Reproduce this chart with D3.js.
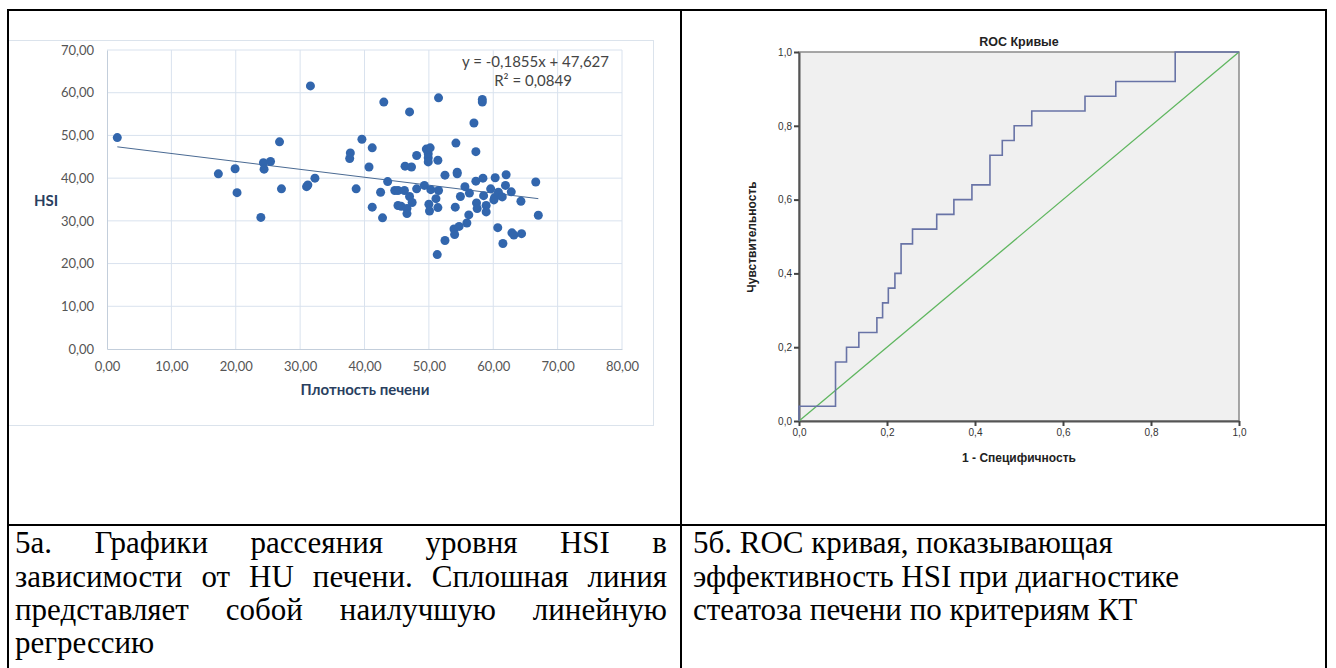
<!DOCTYPE html>
<html>
<head>
<meta charset="utf-8">
<script src="https://cdn.jsdelivr.net/npm/d3@7"></script>
<style>
  body { margin: 0; background: #fff; }
  svg { display: block; }
</style>
</head>
<body>
<svg id="page" width="1336" height="668"></svg>
<script>
// scatter: liver density (x) vs HSI (y)
var densX = [1.6, 17.3, 19.9, 20.2, 23.9, 24.3, 24.4, 25.4, 26.8, 27.1, 31.0, 31.2, 31.6, 32.3,
  37.7, 37.8, 38.7, 39.6, 40.7, 41.2, 41.2, 42.5, 42.8, 43.0, 43.6, 44.7, 45.2, 45.2, 45.7,
  46.2, 46.3, 46.6, 46.6, 47.0, 47.0, 47.3, 47.4, 48.1, 48.1, 49.3, 49.6, 49.9, 49.9, 49.9,
  50.0, 50.1, 50.2, 50.3, 51.1, 51.3, 51.4, 51.4, 51.5, 51.5, 52.5, 52.5, 53.9, 54.0, 54.1,
  54.2, 54.4, 54.4, 54.7, 54.9, 55.6, 55.9, 56.2, 56.3, 57.0, 57.3, 57.3, 57.4, 57.5, 58.3,
  58.3, 58.4, 58.5, 58.9, 58.9, 59.6, 60.1, 60.2, 60.3, 60.7, 60.8, 61.4, 61.5, 61.9, 62.0,
  62.8, 62.9, 63.2, 64.3, 64.4, 66.6, 67.0];
var hsiY = [49.5, 41.0, 42.2, 36.6, 30.8, 43.6, 42.1, 43.9, 48.5, 37.5, 38.0, 38.4, 61.6, 40.0,
  44.6, 45.9, 37.5, 49.1, 42.6, 47.1, 33.2, 36.7, 30.7, 57.8, 39.2, 37.1, 37.1, 33.6, 33.4,
  37.1, 42.8, 32.9, 31.7, 55.5, 35.7, 42.6, 34.3, 45.3, 37.5, 38.3, 46.8, 45.7, 44.8, 43.8,
  33.9, 32.3, 47.1, 37.3, 35.2, 22.1, 44.2, 33.1, 58.8, 37.1, 40.7, 25.4, 28.1, 26.8, 33.2,
  48.2, 41.4, 41.0, 28.7, 35.7, 38.0, 29.5, 31.4, 36.5, 52.9, 46.2, 39.3, 34.2, 32.9, 58.4,
  57.8, 40.0, 35.9, 33.6, 32.1, 37.5, 34.9, 35.4, 40.1, 28.4, 36.7, 35.6, 24.7, 38.3, 40.8,
  36.8, 27.2, 26.7, 34.6, 27.0, 39.1, 31.3];
var trendSlope = -0.1855, trendIntercept = 47.627;
var scatterXTicks = [0, 10, 20, 30, 40, 50, 60, 70, 80];
var scatterYTicks = [0, 10, 20, 30, 40, 50, 60, 70];

// ROC curve vertices (step after)
var rocFpr = [0, 0, 0.083, 0.108, 0.136, 0.177, 0.19, 0.203, 0.218, 0.232, 0.258, 0.313, 0.352,
  0.393, 0.434, 0.462, 0.489, 0.529, 0.65, 0.72, 0.855, 1];
var rocTpr = [0, 0.04, 0.16, 0.20, 0.24, 0.28, 0.32, 0.36, 0.40, 0.48, 0.52, 0.56, 0.60,
  0.64, 0.72, 0.76, 0.80, 0.84, 0.88, 0.92, 1.0, 1.0];
var rocTicks = [0, 0.2, 0.4, 0.6, 0.8, 1.0];

var captionLeft = ["5а. Графики рассеяния уровня HSI в",
  "зависимости от HU печени. Сплошная линия",
  "представляет собой наилучшую линейную",
  "регрессию"];
var captionRight = ["5б. ROC кривая, показывающая",
  "эффективность HSI при диагностике",
  "стеатоза печени по критериям КТ"];

var fmt = (d, n) => d.toFixed(n).replace(".", ",");
var svg = d3.select("#page");

// ---------- scatter panel ----------
svg.append("rect").attr("x", 8.5).attr("y", 40.5).attr("width", 645).attr("height", 385)
  .attr("fill", "#fff").attr("stroke", "#dbe3ec");

var x = d3.scaleLinear().domain([0, 80]).range([107, 622]);
var y = d3.scaleLinear().domain([0, 70]).range([349, 50]);
var sc = svg.append("g");

sc.append("g").selectAll("line").data(scatterXTicks.slice(1)).enter().append("line")
  .attr("x1", (d) => x(d)).attr("x2", (d) => x(d)).attr("y1", y(0)).attr("y2", y(70))
  .attr("stroke", "#d9e2ee").attr("stroke-width", 1);
sc.append("g").selectAll("line").data(scatterYTicks.slice(1)).enter().append("line")
  .attr("x1", x(0)).attr("x2", x(80)).attr("y1", (d) => y(d)).attr("y2", (d) => y(d))
  .attr("stroke", "#d9e2ee").attr("stroke-width", 1);

var xAx = sc.append("g").attr("transform", "translate(0," + y(0) + ")")
  .call(d3.axisBottom(x).tickValues(scatterXTicks).tickSize(0).tickPadding(13).tickFormat((d) => fmt(d, 2)));
var yAx = sc.append("g").attr("transform", "translate(" + x(0) + ",0)")
  .call(d3.axisLeft(y).tickValues(scatterYTicks).tickSize(0).tickPadding(13).tickFormat((d) => fmt(d, 2)));
[xAx, yAx].forEach((a) => {
  a.select(".domain").attr("stroke", "#c3cedb");
  a.selectAll("text").attr("font-family", "Lato, 'Open Sans', sans-serif").attr("font-size", 13)
    .attr("fill", "#555");
});

sc.append("line")
  .attr("x1", x(densX[0])).attr("y1", y(trendSlope * densX[0] + trendIntercept))
  .attr("x2", x(d3.max(densX))).attr("y2", y(trendSlope * d3.max(densX) + trendIntercept))
  .attr("stroke", "#4a6a93").attr("stroke-width", 1);

sc.append("g").selectAll("circle").data(densX).enter().append("circle")
  .attr("cx", (d) => x(d)).attr("cy", (d, i) => y(hsiY[i])).attr("r", 4.5)
  .attr("fill", "#3266ad");

sc.append("text").attr("x", 609).attr("y", 67).attr("text-anchor", "end")
  .attr("font-family", "Lato, 'Open Sans', sans-serif").attr("font-size", 15).attr("fill", "#444")
  .text("y = " + fmt(trendSlope, 4) + "x + " + fmt(trendIntercept, 3));
sc.append("text").attr("x", 533).attr("y", 86).attr("text-anchor", "middle")
  .attr("font-family", "Lato, 'Open Sans', sans-serif").attr("font-size", 15).attr("fill", "#444")
  .text("R² = 0,0849");

sc.append("text").attr("x", 46).attr("y", 206).attr("text-anchor", "middle")
  .attr("font-family", "Lato, 'Open Sans', sans-serif").attr("font-size", 15).attr("font-weight", "bold")
  .attr("fill", "#2a3f5f").text("HSI");
sc.append("text").attr("x", 365).attr("y", 395).attr("text-anchor", "middle")
  .attr("font-family", "Lato, 'Open Sans', sans-serif").attr("font-size", 15).attr("font-weight", "bold")
  .attr("fill", "#2a3f5f").text("Плотность печени");

// ---------- ROC panel ----------
var rx = d3.scaleLinear().domain([0, 1]).range([799, 1239]);
var ry = d3.scaleLinear().domain([0, 1]).range([421, 52]);
var roc = svg.append("g");

roc.append("rect").attr("x", rx(0)).attr("y", ry(1)).attr("width", rx(1) - rx(0)).attr("height", ry(0) - ry(1))
  .attr("fill", "#f0f0f0").attr("stroke", "#8a8a8a").attr("stroke-width", 1.5);

var rxa = roc.append("g").attr("transform", "translate(0," + ry(0) + ")")
  .call(d3.axisBottom(rx).tickValues(rocTicks).tickSize(5).tickSizeOuter(0).tickPadding(3).tickFormat((d) => fmt(d, 1)));
var rya = roc.append("g").attr("transform", "translate(" + rx(0) + ",0)")
  .call(d3.axisLeft(ry).tickValues(rocTicks).tickSize(5).tickSizeOuter(0).tickPadding(2).tickFormat((d) => fmt(d, 1)));
[rxa, rya].forEach((a) => {
  a.select(".domain").attr("stroke", "#555").attr("stroke-width", 2);
  a.selectAll(".tick line").attr("stroke", "#444").attr("stroke-width", 2);
  a.selectAll("text").attr("font-family", "Arial, 'Liberation Sans', sans-serif").attr("font-size", 10)
    .attr("fill", "#333");
});

roc.append("line").attr("x1", rx(0)).attr("y1", ry(0)).attr("x2", rx(1)).attr("y2", ry(1))
  .attr("stroke", "#5fb65f").attr("stroke-width", 1.3);

var rocLine = d3.line().x((d) => rx(d)).y((d, i) => ry(rocTpr[i])).curve(d3.curveStepAfter);
roc.append("path").datum(rocFpr).attr("d", rocLine).attr("fill", "none")
  .attr("stroke", "#6873a6").attr("stroke-width", 1.6);

roc.append("text").attr("x", 1019).attr("y", 46).attr("text-anchor", "middle")
  .attr("font-family", "Arial, 'Liberation Sans', sans-serif").attr("font-size", 12.5).attr("font-weight", "bold")
  .attr("fill", "#222").text("ROC Кривые");
roc.append("text").attr("x", 1019).attr("y", 462).attr("text-anchor", "middle")
  .attr("font-family", "Arial, 'Liberation Sans', sans-serif").attr("font-size", 12).attr("font-weight", "bold")
  .attr("fill", "#222").text("1 - Специфичность");
roc.append("text").attr("transform", "translate(756,237) rotate(-90)").attr("text-anchor", "middle")
  .attr("font-family", "Arial, 'Liberation Sans', sans-serif").attr("font-size", 12).attr("font-weight", "bold")
  .attr("fill", "#222").text("Чувствительность");

// ---------- table borders ----------
var tb = svg.append("g").attr("stroke", "#000").attr("stroke-width", 2).attr("fill", "none");
tb.append("line").attr("x1", 7).attr("x2", 1327).attr("y1", 10).attr("y2", 10);
tb.append("line").attr("x1", 7).attr("x2", 1327).attr("y1", 525).attr("y2", 525);
tb.append("line").attr("x1", 8).attr("x2", 8).attr("y1", 9).attr("y2", 668);
tb.append("line").attr("x1", 681).attr("x2", 681).attr("y1", 9).attr("y2", 668);
tb.append("line").attr("x1", 1326).attr("x2", 1326).attr("y1", 9).attr("y2", 668);

// ---------- captions ----------
var capFont = "'Liberation Serif', 'Times New Roman', serif";
var capSize = 31;
var baselines = [553, 586.5, 620, 653];
captionLeft.forEach((line, li) => {
  var words = line.split(" ");
  var g = svg.append("g");
  var texts = words.map((w) => g.append("text").attr("font-family", capFont).attr("font-size", capSize)
    .attr("fill", "#000").attr("y", baselines[li]).text(w));
  var left = 15, right = 667;
  var widths = texts.map((t) => t.node().getComputedTextLength());
  var justify = li < captionLeft.length - 1;
  var gap = justify ? (right - left - d3.sum(widths)) / (words.length - 1) : 8;
  var cx = left;
  texts.forEach((t, i) => { t.attr("x", cx); cx += widths[i] + gap; });
});
captionRight.forEach((line, li) => {
  svg.append("text").attr("x", 693).attr("y", baselines[li])
    .attr("font-family", capFont).attr("font-size", capSize).attr("fill", "#000").text(line);
});
</script>
</body>
</html>
